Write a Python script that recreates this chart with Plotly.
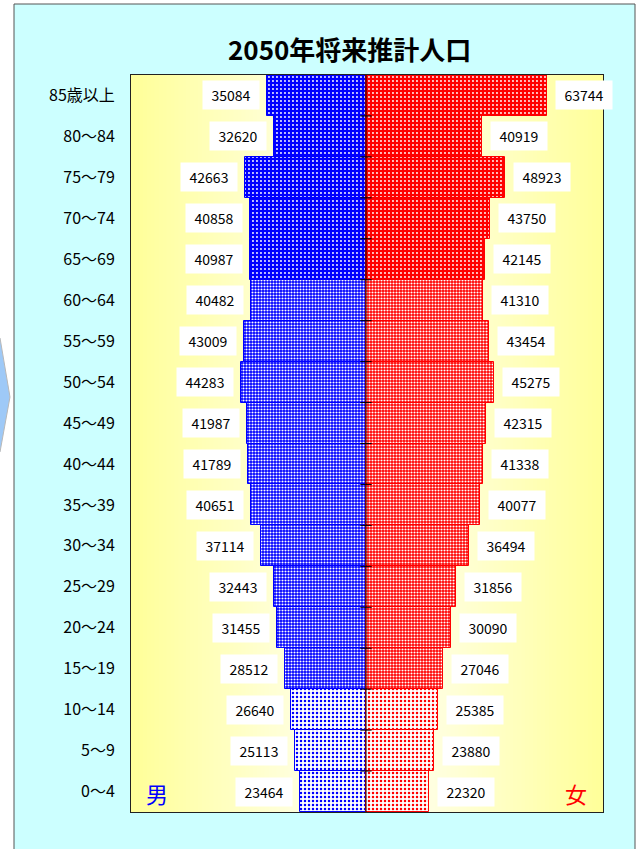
import plotly.graph_objects as go

# 年齢階級（下から上へ）
ages = ["0～4", "5～9", "10～14", "15～19", "20～24", "25～29", "30～34",
        "35～39", "40～44", "45～49", "50～54", "55～59", "60～64",
        "65～69", "70～74", "75～79", "80～84", "85歳以上"]
male = [23464, 25113, 26640, 28512, 31455, 32443, 37114, 40651, 41789,
        41987, 44283, 43009, 40482, 40987, 40858, 42663, 32620, 35084]
female = [22320, 23880, 25385, 27046, 30090, 31856, 36494, 40077, 41338,
          42315, 45275, 43454, 41310, 42145, 43750, 48923, 40919, 63744]

W, H = 643, 849
L, R, T, B = 131, 603, 75, 812
FONT = "Noto Sans CJK JP"


def px(x):
    return (x - L) / (R - L)


def py(y):
    return (B - y) / (B - T)


def patterns(color):
    # 0-14: 白地に点, 15-64: 市松, 65+: 色地に白点
    shapes, fg, bg, size, sol = [], [], [], [], []
    for i in range(len(ages)):
        if i <= 2:
            shapes.append("."); fg.append(color); bg.append("white"); size.append(4); sol.append(0.3)
        elif i <= 12:
            shapes.append("."); fg.append("white"); bg.append(color); size.append(3); sol.append(0.38)
        else:
            shapes.append("."); fg.append("white"); bg.append(color); size.append(4); sol.append(0.18)
    return dict(shape=shapes, fgcolor=fg, bgcolor=bg, size=size, solidity=sol, fillmode="replace")


fig = go.Figure()
fig.add_trace(go.Bar(
    y=ages, x=[-v for v in male], orientation="h", name="男",
    marker=dict(color="#0000ff", line=dict(color="#0000ff", width=1),
                pattern=patterns("#0000ff")),
))
fig.add_trace(go.Bar(
    y=ages, x=female, orientation="h", name="女",
    marker=dict(color="#ff0000", line=dict(color="#ff0000", width=1),
                pattern=patterns("#ff0000")),
))

shapes = []
# 外枠（水色）
shapes.append(dict(type="rect", xref="paper", yref="paper", layer="below",
                   x0=px(14), x1=px(635), y0=py(870), y1=py(4),
                   fillcolor="#ccffff", line=dict(color="#555555", width=1)))
# 左の矢印
shapes.append(dict(type="path", xref="paper", yref="paper", layer="below",
                   path="M %f,%f L %f,%f L %f,%f L %f,%f L %f,%f Z" % (
                       px(-5), py(338), px(0), py(338), px(10), py(397),
                       px(0), py(452), px(-5), py(452)),
                   fillcolor="#9ec9f7", line=dict(color="#b8b8b8", width=1)))
# プロットエリアのグラデーション
n = 60
cx = (L + R) / 2
for k in range(n):
    t = k / (n - 1)
    g = int(round(153 + (250 - 153) * t))
    col = "rgb(255,255,%d)" % g
    for side in (-1, 1):
        half = (R - L) / 2
        a = cx + side * half * (1 - k / n)
        b = cx + side * half * (1 - (k + 1) / n)
        shapes.append(dict(type="rect", xref="paper", yref="paper", layer="below",
                           x0=px(min(a, b)), x1=px(max(a, b)) + 0.002, y0=0, y1=1,
                           fillcolor=col, line=dict(width=0)))
# 中央線と目盛
shapes.append(dict(type="line", xref="x", yref="paper", x0=0, x1=0, y0=0, y1=1,
                   line=dict(color="black", width=1)))
for i in range(1, len(ages)):
    shapes.append(dict(type="line", xref="x", yref="y", x0=-2000, x1=2000,
                       y0=i - 0.5, y1=i - 0.5, line=dict(color="black", width=1)))

annotations = []
for a, m, f in zip(ages, male, female):
    annotations.append(dict(x=-m, y=a, xref="x", yref="y", text=str(m), showarrow=False,
                            xanchor="right", yanchor="middle", xshift=-7, width=56, height=28,
                            bgcolor="white", borderpad=0,
                            font=dict(family=FONT, size=14, color="black")))
    annotations.append(dict(x=f, y=a, xref="x", yref="y", text=str(f), showarrow=False,
                            xanchor="left", yanchor="middle", xshift=8, width=56, height=28,
                            bgcolor="white", borderpad=0,
                            font=dict(family=FONT, size=14, color="black")))
annotations.append(dict(x=px(157), y=py(793), xref="paper", yref="paper", text="男",
                        xanchor="center", yanchor="middle", showarrow=False,
                        font=dict(family=FONT, size=22, color="#0000ff")))
annotations.append(dict(x=px(576), y=py(793), xref="paper", yref="paper", text="女",
                        xanchor="center", yanchor="middle", showarrow=False,
                        font=dict(family=FONT, size=22, color="#ff0000")))
annotations.append(dict(x=px(349), y=py(48), xref="paper", yref="paper",
                        text="<b>2050年将来推計人口</b>", showarrow=False,
                        xanchor="center", yanchor="middle",
                        font=dict(family=FONT, size=26, color="black")))

fig.update_layout(
    width=W, height=H,
    margin=dict(l=L, r=W - R, t=T, b=H - B),
    paper_bgcolor="white", plot_bgcolor="rgba(0,0,0,0)",
    barmode="relative", bargap=0, showlegend=False,
    shapes=shapes, annotations=annotations,
    font=dict(family=FONT),
)
fig.update_xaxes(range=[-82950, 83650], showticklabels=False, showgrid=False,
                 zeroline=False, showline=True, linecolor="#222222", linewidth=1, mirror=True)
fig.update_yaxes(type="category", categoryorder="array", categoryarray=ages,
                 showgrid=False, zeroline=False, showline=True, linecolor="#222222",
                 linewidth=1, mirror=True, ticks="outside", ticklen=12,
                 tickcolor="rgba(0,0,0,0)", tickfont=dict(family=FONT, size=16, color="black"))

fig.write_html("out.html", config={"displayModeBar": False},
               post_script="document.body.style.margin='0px';")
